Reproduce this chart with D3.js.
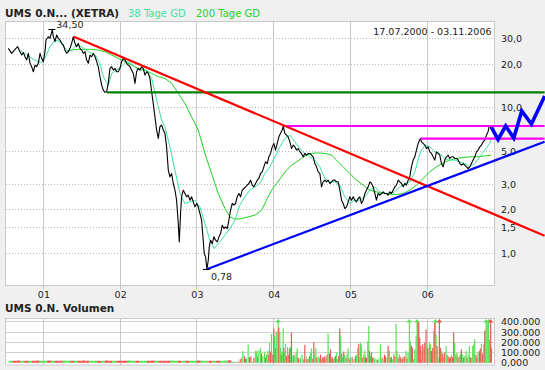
<!DOCTYPE html>
<html><head><meta charset="utf-8">
<script src="https://cdn.jsdelivr.net/npm/d3@7"></script>
<style>
body{margin:0;background:#f0f0f0;}
svg{display:block;font-family:"DejaVu Sans",Verdana,sans-serif;}
</style></head><body>
<svg id="c" width="545" height="370"></svg>
<script>
// ---------- DATA (dates as decimal years) ----------
const priceDates = [
2000.543,2000.587,2000.630,2000.665,2000.695,2000.717,2000.739,2000.760,2000.782,2000.804,2000.826,2000.847,2000.869,2000.891,2000.912,2000.934,2000.956,2000.977,2000.999,
2001.021,2001.034,2001.064,2001.086,2001.116,2001.129,2001.151,2001.173,2001.194,2001.216,2001.238,2001.260,2001.281,2001.303,2001.325,2001.346,2001.368,2001.390,2001.411,2001.433,2001.455,2001.477,2001.498,2001.520,2001.542,2001.563,2001.585,2001.607,2001.628,2001.650,2001.672,2001.694,2001.715,2001.737,2001.759,2001.780,2001.802,2001.824,2001.845,2001.867,2001.889,2001.911,2001.932,2001.954,2001.976,2001.997,
2002.019,2002.041,2002.063,2002.084,2002.106,2002.128,2002.149,2002.171,2002.193,2002.214,2002.236,2002.258,2002.280,2002.301,2002.323,2002.345,2002.366,2002.388,2002.410,2002.431,2002.453,2002.475,2002.497,2002.518,2002.540,2002.562,2002.583,
2002.605,2002.627,2002.648,2002.670,2002.692,2002.714,2002.735,2002.757,2002.770,2002.787,2002.800,2002.822,2002.844,2002.865,2002.887,2002.909,2002.931,2002.952,2002.974,2002.996,
2003.017,2003.039,2003.061,2003.082,2003.095,2003.113,2003.130,2003.148,2003.161,2003.178,2003.200,2003.221,2003.243,2003.265,2003.287,2003.308,2003.330,2003.352,2003.373,2003.395,2003.417,2003.438,2003.460,2003.482,2003.503,2003.525,2003.547,2003.569,2003.590,2003.612,2003.634,2003.655,2003.677,2003.699,2003.720,2003.742,2003.764,2003.786,2003.807,2003.829,2003.851,2003.872,2003.894,2003.916,2003.937,2003.959,2003.981,
2004.003,2004.024,2004.046,2004.068,2004.089,2004.111,2004.124,2004.146,2004.168,2004.189,2004.211,2004.233,2004.254,2004.276,2004.298,2004.320,2004.341,2004.363,2004.385,2004.406,2004.428,2004.450,2004.471,2004.493,2004.515,2004.536,2004.558,2004.580,2004.602,2004.623,2004.645,2004.667,2004.688,2004.710,2004.732,2004.754,2004.775,2004.797,2004.819,2004.840,2004.862,2004.884,2004.905,2004.927,2004.949,2004.971,2004.992,
2005.014,2005.036,2005.057,2005.079,2005.101,2005.122,2005.144,2005.166,2005.188,2005.209,2005.231,2005.253,2005.274,2005.296,2005.318,2005.339,2005.361,2005.383,2005.405,2005.426,2005.448,2005.470,2005.491,2005.513,2005.535,2005.556,2005.578,2005.600,2005.622,2005.643,2005.665,2005.687,2005.708,2005.730,2005.752,2005.773,2005.795,2005.817,2005.839,2005.860,2005.882,2005.904,2005.913,2005.925,2005.947,2005.969,2005.990,
2006.012,2006.034,2006.056,2006.077,2006.099,2006.121,2006.142,2006.164,2006.186,2006.207,2006.229,2006.251,2006.273,2006.294,2006.316,2006.338,2006.359,2006.381,2006.403,2006.425,2006.446,2006.468,2006.490,2006.511,2006.533,2006.555,2006.576,2006.598,2006.620,2006.642,2006.663,2006.685,2006.707,2006.728,2006.750,2006.772,2006.793,2006.806,2006.818,2006.830,2006.840];
const priceValues = [
25.65,23.69,25.25,26.33,24.33,23.08,23.96,22.48,21.32,23.69,20.23,19.19,17.72,19.70,19.19,20.23,23.69,21.89,20.77,
24.33,29.26,30.84,30.04,34.50,30.84,28.50,31.68,30.04,29.26,27.76,27.04,24.98,23.69,24.33,25.65,27.76,30.84,27.76,26.33,27.76,25.65,24.98,23.69,24.33,21.32,20.23,23.08,22.48,23.69,22.48,20.77,19.19,16.37,14.35,13.26,12.80,12.92,14.74,18.69,19.19,18.19,18.69,17.72,17.72,18.69,
20.77,21.89,21.32,20.23,19.70,19.19,18.19,17.26,14.74,17.72,18.69,18.19,19.19,18.69,16.81,17.72,17.26,15.95,12.92,10.74,8.67,7.05,6.17,7.43,7.63,7.05,6.69,
5.40,3.737,3.363,3.545,3.026,2.723,2.325,1.607,1.202,1.883,2.450,2.723,2.583,2.450,2.516,2.325,2.450,2.264,2.092,2.205,
2.092,1.883,1.694,1.234,0.999,0.948,0.78,0.899,1.111,1.234,1.171,1.301,1.234,1.202,1.301,1.371,1.565,1.485,1.525,1.485,1.694,1.985,2.205,2.148,2.205,2.450,2.583,2.450,2.723,2.795,2.870,2.947,3.026,3.19,2.947,2.870,3.026,3.19,3.276,3.545,3.64,3.94,4.26,4.15,4.615,4.865,5.40,
5.70,5.13,5.70,6.33,6.69,7.05,7.51,6.69,6.50,6.33,5.85,5.26,5.55,5.40,5.13,5.26,4.99,4.865,4.615,4.865,4.74,4.865,4.865,4.74,4.615,4.15,3.94,3.64,3.545,2.870,3.107,3.19,3.107,3.19,3.026,3.107,3.19,3.19,3.107,3.107,2.723,2.325,2.205,2.038,2.092,2.264,2.450,
2.325,2.450,2.325,2.264,2.387,2.450,2.205,2.325,2.583,2.723,2.870,3.107,3.026,2.870,2.583,2.325,2.583,2.516,2.583,2.652,2.583,2.583,2.516,2.652,2.583,2.723,2.870,2.947,3.19,3.107,3.026,2.870,3.026,2.947,3.19,3.363,3.94,4.38,4.615,5.13,5.70,6.07,6.15,5.85,5.70,5.55,5.26,
5.40,4.99,4.865,4.615,4.38,4.99,4.865,4.74,4.15,3.94,4.38,4.615,4.74,4.495,4.615,4.615,4.495,4.495,4.38,4.15,4.04,4.15,4.04,3.94,3.836,3.94,4.15,4.38,4.615,4.99,5.13,5.40,5.55,5.85,6.01,6.50,6.87,7.43,7.51,7.24,7.05];

const ma38Dates = [2000.674,2000.760,2000.847,2000.934,2000.977,2001.021,2001.086,2001.151,2001.216,2001.281,2001.325,2001.368,2001.433,2001.498,2001.585,2001.672,2001.737,2001.780,2001.845,2001.889,2001.954,2002.019,2002.084,2002.149,2002.214,2002.280,2002.345,2002.410,2002.475,2002.540,2002.583,2002.648,2002.714,2002.779,2002.844,2002.909,2002.974,2003.039,2003.104,2003.169,2003.226,2003.299,2003.364,2003.430,2003.495,2003.560,2003.625,2003.690,2003.755,2003.820,2003.885,2003.951,2004.016,2004.081,2004.146,2004.211,2004.276,2004.341,2004.406,2004.471,2004.536,2004.602,2004.667,2004.732,2004.797,2004.862,2004.927,2004.992,2005.057,2005.122,2005.188,2005.253,2005.318,2005.383,2005.448,2005.513,2005.578,2005.643,2005.708,2005.773,2005.839,2005.904,2005.969,2006.034,2006.099,2006.164,2006.229,2006.294,2006.359,2006.425,2006.490,2006.555,2006.620,2006.685,2006.750,2006.815,2006.840];
const ma38Values = [24.98,23.69,21.89,20.77,20.44,21.89,26.33,29.26,28.50,25.65,24.33,24.98,27.04,26.33,24.33,23.08,20.23,16.37,14.35,17.26,18.19,19.19,20.77,20.23,18.69,18.19,18.19,15.95,11.32,8.25,7.43,5.40,3.737,2.583,2.205,2.264,2.325,2.092,1.607,1.234,1.08,1.202,1.336,1.485,1.694,2.148,2.450,2.723,2.870,3.026,3.545,3.94,4.615,5.40,6.17,6.50,5.85,5.26,4.865,4.615,4.38,3.94,3.276,3.107,3.107,2.947,2.450,2.205,2.325,2.325,2.450,2.723,2.870,2.652,2.583,2.583,2.652,2.870,3.026,3.107,3.64,4.865,5.55,5.40,4.99,4.865,4.495,4.38,4.38,4.26,4.15,3.94,4.15,4.615,5.13,5.70,6.27];

const ma200Dates = [2001.303,2001.368,2001.455,2001.542,2001.628,2001.715,2001.802,2001.889,2001.976,2002.063,2002.149,2002.236,2002.323,2002.410,2002.497,2002.583,2002.670,2002.757,2002.844,2002.931,2003.017,2003.104,2003.191,2003.278,2003.365,2003.430,2003.495,2003.582,2003.668,2003.755,2003.842,2003.907,2003.972,2004.037,2004.102,2004.168,2004.233,2004.298,2004.363,2004.428,2004.493,2004.580,2004.667,2004.753,2004.819,2004.905,2004.992,2005.079,2005.166,2005.253,2005.339,2005.426,2005.513,2005.600,2005.687,2005.773,2005.860,2005.947,2006.034,2006.121,2006.207,2006.294,2006.381,2006.468,2006.555,2006.642,2006.728,2006.837];
const ma200Values = [24.7,24.98,25.25,25.25,25.25,24.98,24.33,23.08,21.89,20.77,19.70,18.69,18.19,17.26,16.37,15.95,14.74,12.58,10.74,8.67,7.05,4.865,3.545,2.583,2.038,1.786,1.72,1.739,1.786,1.833,1.985,2.325,2.723,3.026,3.363,3.737,4.04,4.26,4.495,4.74,4.865,4.91,4.865,4.74,4.38,3.94,3.545,3.19,2.947,2.723,2.652,2.583,2.556,2.543,2.583,2.723,2.947,3.276,3.64,3.94,4.19,4.38,4.495,4.57,4.615,4.615,4.66,4.74];

// volume in thousands of shares; up = 1 (green) / 0 (red)
const volDates = [
2000.55,2000.60,2000.65,2000.70,2000.75,2000.80,2000.85,2000.90,2000.95,
2001.00,2001.05,2001.10,2001.15,2001.20,2001.25,2001.30,2001.35,2001.40,2001.45,2001.50,2001.55,2001.60,2001.65,2001.70,2001.75,2001.80,2001.85,2001.90,2001.95,
2002.00,2002.05,2002.10,2002.15,2002.20,2002.25,2002.30,2002.35,2002.40,2002.45,2002.50,2002.55,2002.60,2002.65,2002.70,2002.75,2002.80,2002.85,2002.90,2002.95,
2003.00,2003.05,2003.10,2003.15,2003.20,2003.25,2003.30,2003.35,2003.40,2003.45,
2003.495,2003.517,2003.538,2003.556,2003.573,2003.590,2003.612,2003.625,2003.638,2003.660,2003.677,2003.695,2003.712,2003.734,2003.755,2003.786,2003.799,2003.821,2003.834,2003.851,2003.873,2003.886,2003.899,2003.916,2003.929,2003.938,2003.951,2003.964,2003.981,2003.994,
2004.003,2004.016,2004.024,2004.037,2004.051,2004.059,2004.072,2004.081,2004.094,2004.103,2004.116,2004.124,2004.137,2004.146,2004.159,2004.172,2004.189,2004.198,2004.211,2004.224,2004.242,2004.255,2004.267,2004.285,2004.298,2004.311,2004.320,2004.341,2004.363,2004.385,2004.398,2004.415,2004.428,2004.441,2004.458,2004.472,2004.485,2004.502,2004.515,2004.528,2004.541,2004.554,2004.571,2004.589,2004.602,2004.615,2004.632,2004.645,2004.658,2004.675,2004.688,2004.701,2004.719,2004.732,2004.745,2004.754,2004.767,2004.784,2004.797,2004.810,2004.827,2004.840,2004.853,2004.866,2004.879,2004.892,2004.905,2004.918,2004.936,2004.949,2004.962,2004.975,2004.992,
2005.014,2005.036,2005.057,2005.070,2005.088,2005.101,2005.109,2005.123,2005.136,2005.153,2005.166,2005.179,
2005.188,2005.200,2005.218,2005.231,2005.240,2005.253,2005.266,2005.283,2005.296,2005.309,2005.326,2005.344,2005.361,2005.383,2005.404,2005.417,2005.435,2005.448,2005.470,2005.483,2005.500,2005.513,2005.526,2005.543,2005.556,2005.570,2005.587,2005.600,2005.613,2005.630,2005.643,2005.656,2005.674,2005.687,2005.700,2005.717,2005.730,2005.743,2005.760,2005.773,2005.786,2005.799,2005.812,2005.830,2005.847,2005.860,2005.873,2005.882,2005.895,2005.908,2005.921,2005.934,2005.947,2005.960,2005.977,2005.990,
2006.003,2006.021,2006.034,2006.047,2006.064,2006.077,2006.090,2006.099,2006.107,2006.121,2006.134,2006.151,2006.164,2006.177,2006.194,2006.207,2006.220,2006.238,2006.251,2006.264,2006.281,2006.294,2006.307,2006.324,2006.337,2006.350,2006.368,2006.381,2006.394,2006.411,2006.424,2006.437,2006.455,2006.468,2006.481,2006.498,2006.511,2006.524,2006.541,2006.554,2006.567,2006.585,2006.598,2006.611,2006.628,2006.641,2006.654,2006.672,2006.685,2006.698,2006.715,2006.728,2006.741,2006.750,2006.759,2006.772,2006.784,2006.793,2006.806,2006.819,2006.828,2006.837];
const volValues = [
20,20,22,20,20,20,20,22,20,
20,22,20,20,20,22,20,20,20,20,22,20,20,20,20,20,22,20,20,20,
20,20,22,20,20,20,20,20,22,20,20,20,20,22,20,20,20,20,20,20,
22,20,20,20,20,20,20,22,24,
10,8,12,10,35,50,115,65,40,40,180,55,65,15,50,115,65,125,145,90,65,110,50,80,120,80,195,110,280,80,
335,260,145,295,310,460,345,295,145,80,110,335,145,100,185,65,155,80,140,155,295,65,80,65,100,140,50,35,50,80,35,175,65,35,40,65,100,140,40,200,80,145,50,65,50,80,35,55,50,65,50,80,285,90,130,50,55,35,50,65,100,40,65,335,270,90,55,110,80,50,90,140,40,
50,55,40,65,80,145,185,55,195,180,50,80,
120,55,50,210,360,115,65,100,50,50,40,35,25,40,180,50,35,80,65,50,165,120,50,55,35,90,65,380,115,50,80,55,35,50,55,65,115,40,100,460,210,165,145,35,130,260,460,400,390,245,165,115,180,145,195,325,
180,145,195,180,115,145,310,390,460,280,165,50,460,145,115,90,50,100,165,80,65,50,55,80,55,295,195,80,100,55,65,90,130,80,50,65,115,50,80,165,55,50,165,180,230,80,50,100,115,140,185,90,180,310,325,460,400,380,460,225,460,145];
const volUp = [
1,0,0,1,0,1,0,0,1,
1,0,1,0,0,1,1,0,1,0,0,0,1,1,0,1,0,0,1,0,
0,0,1,1,0,1,1,0,0,1,0,0,0,1,1,0,1,0,1,1,
0,1,1,0,1,0,1,1,0,
1,0,1,0,0,1,1,0,0,1,1,0,0,1,0,1,0,1,1,0,1,1,0,1,1,0,1,0,1,0,
0,1,0,1,1,1,0,1,1,0,1,1,0,1,1,0,1,0,0,1,0,1,0,1,1,1,0,0,1,1,0,0,1,0,1,0,1,1,0,0,1,1,0,1,1,0,1,0,0,0,1,0,1,0,0,1,0,0,1,0,1,1,0,0,1,0,1,0,1,0,1,1,0,
1,0,1,0,1,1,0,1,1,1,0,1,
1,0,0,1,1,0,1,0,0,1,1,1,0,1,1,0,1,0,0,1,0,1,1,0,1,1,0,1,1,0,1,0,1,0,1,0,1,0,1,1,1,0,0,1,1,1,1,0,0,0,0,1,0,1,0,0,
1,0,1,1,0,0,1,0,1,1,0,1,0,0,1,0,1,0,1,1,0,0,0,1,0,0,1,0,1,0,1,1,0,1,0,1,1,0,1,1,0,1,1,1,1,0,0,1,0,0,1,0,1,0,1,1,1,1,1,1,0,0];

const yearTicks = [2001,2002,2003,2004,2005,2006];
const yearLabels = ["01","02","03","04","05","06"];
const priceTicks = [1,1.5,2,3,5,10,20,30];
const priceTickLabels = ["1,0","1,5","2,0","3,0","5,0","10,0","20,0","30,0"];
const volTicks = [0,100,200,300,400];
const volTickLabels = ["0,000","100.000","200.000","300.000","400.000"];

// drawn analysis lines: [decimal year, price]
const trendRed = [[2001.398,30.83],[2007.53,1.325]];
const trendBlue = [[2003.130,0.78],[2007.53,5.86]];
const levelGreen = [[2001.824,12.8],[2007.53,12.8]];
const levelMagenta1 = [[2004.124,7.51],[2007.53,7.51]];
const levelMagenta2 = [[2005.913,6.15],[2007.53,6.15]];
const zigzag = [[2006.837,7.36],[2006.923,6.07],[2007.023,7.51],[2007.128,6.21],[2007.232,9.52],[2007.358,7.75],[2007.531,12.07]];
const extremes = [{date:2001.116,value:34.50,text:"34,50",kind:"high"},{date:2003.130,value:0.78,text:"0,78",kind:"low"}];

const titleText = "UMS 0.N... (XETRA)";
const legendItems = [{text:"38 Tage GD",color:"#3fe29c"},{text:"200 Tage GD",color:"#1fd21f"}];
const rangeText = "17.07.2000 - 03.11.2006";
const volTitle = "UMS 0.N. Volumen";

// ---------- LAYOUT ----------
const P = {l:5, r:495, t:21, b:285.5};
const V = {l:5, r:495, t:318, b:365.5};
const x = d3.scaleLinear().domain([2001,2006]).range([43.4,427.2]);
const y = d3.scaleLog().domain([0.6029,39.53]).range([P.b,P.t]);
const yv = d3.scaleLinear().domain([0,400]).range([362.8,321.8]);

const svg = d3.select("#c");
svg.append("rect").attr("width",545).attr("height",370).attr("fill","#f0f0f0");

const crisp = v => Math.round(v - 0.5) + 0.5;

// price panel
svg.append("rect").attr("x",P.l+0.5).attr("y",P.t+0.5).attr("width",P.r-P.l-1).attr("height",P.b-P.t-0.5)
  .attr("fill","#fff").attr("stroke","#c8c8c8");
svg.append("g").selectAll("line").data(priceTicks).join("line")
  .attr("x1",P.l+1).attr("x2",P.r-1)
  .attr("y1",d=>crisp(y(d))).attr("y2",d=>crisp(y(d)))
  .attr("stroke","#b8b8b8").attr("stroke-dasharray","1,2");
svg.append("g").selectAll("line").data(yearTicks).join("line")
  .attr("x1",d=>crisp(x(d))).attr("x2",d=>crisp(x(d)))
  .attr("y1",P.t).attr("y2",P.b+4).attr("stroke","#c8c8c8");

// x axis labels via d3 axis
const xAxis = d3.axisBottom(x).tickValues(yearTicks).tickFormat((d,i)=>yearLabels[i]).tickSize(0).tickPadding(0);
const gx = svg.append("g").attr("transform",`translate(0,${P.b+4})`).call(xAxis);
gx.select(".domain").remove();
gx.selectAll("text").attr("font-size","9.5px").attr("fill","#222").attr("font-family","DejaVu Sans").attr("dy","0.9em");

// right price axis labels
const yAxis = d3.axisRight(y).tickValues(priceTicks).tickFormat((d,i)=>priceTickLabels[i]).tickSize(0).tickPadding(0);
const gy = svg.append("g").attr("transform",`translate(501,0)`).call(yAxis);
gy.select(".domain").remove();
gy.selectAll("text").attr("font-size","9.5px").attr("fill","#222").attr("font-family","DejaVu Sans");

// clip
svg.append("clipPath").attr("id","pc").append("rect").attr("x",P.l+1).attr("y",P.t+1).attr("width",P.r-P.l-2).attr("height",P.b-P.t-1.5);
const pg = svg.append("g").attr("clip-path","url(#pc)");

const line = d3.line().x(d=>x(d[0])).y(d=>y(d[1]));
const zip = (a,b)=>a.map((d,i)=>[d,b[i]]);

pg.append("path").attr("d",line(zip(ma200Dates,ma200Values))).attr("fill","none").attr("stroke",legendItems[1].color).attr("stroke-width",1);
pg.append("path").attr("d",line(zip(ma38Dates,ma38Values))).attr("fill","none").attr("stroke",legendItems[0].color).attr("stroke-width",1);
pg.append("path").attr("d",line(zip(priceDates,priceValues))).attr("fill","none").attr("stroke","#000").attr("stroke-width",1.1).attr("stroke-linejoin","round");

// analysis lines
const ag = svg.append("g");
ag.append("path").attr("d",line(levelGreen)).attr("stroke","#008000").attr("stroke-width",2.2).attr("fill","none");
ag.append("path").attr("d",line(levelMagenta1)).attr("stroke","#ff00ff").attr("stroke-width",2.2).attr("fill","none");
ag.append("path").attr("d",line(levelMagenta2)).attr("stroke","#ff00ff").attr("stroke-width",2.2).attr("fill","none");
ag.append("path").attr("d",line(trendRed)).attr("stroke","#ff0000").attr("stroke-width",2.2).attr("fill","none");
ag.append("path").attr("d",line(trendBlue)).attr("stroke","#0000ff").attr("stroke-width",2.2).attr("fill","none");
ag.append("path").attr("d",line(zigzag)).attr("stroke","#0000ff").attr("stroke-width",3.6).attr("fill","none").attr("stroke-linejoin","miter");

// extremes
extremes.forEach(e=>{
  const ex=x(e.date), ey=y(e.value);
  svg.append("line").attr("x1",ex-4).attr("x2",ex+3).attr("y1",crisp(ey)).attr("y2",crisp(ey)).attr("stroke","#000");
  svg.append("text").attr("x",e.kind==="high"?ex+4:ex+4).attr("y",e.kind==="high"?ey-2:ey+11)
    .attr("font-size","9.5px").attr("fill","#222").text(e.text);
});

// titles
svg.append("text").attr("x",5).attr("y",16.5).attr("font-size","10.5px").attr("font-weight","bold").attr("fill","#222").text(titleText);
svg.append("text").attr("x",128).attr("y",16.5).attr("font-size","10px").attr("fill",legendItems[0].color).text(legendItems[0].text);
svg.append("text").attr("x",196).attr("y",16.5).attr("font-size","10px").attr("fill",legendItems[1].color).text(legendItems[1].text);
svg.append("text").attr("x",491.5).attr("y",34.5).attr("text-anchor","end").attr("font-size","9.5px").attr("fill","#222").text(rangeText);

// volume panel
svg.append("text").attr("x",5).attr("y",312).attr("font-size","10.5px").attr("font-weight","bold").attr("fill","#222").text(volTitle);
svg.append("rect").attr("x",V.l+0.5).attr("y",V.t+0.5).attr("width",V.r-V.l-1).attr("height",V.b-V.t-1)
  .attr("fill","#fff").attr("stroke","#c8c8c8");
svg.append("g").selectAll("line").data(volTicks.slice(1)).join("line")
  .attr("x1",V.l+1).attr("x2",V.r-1).attr("y1",d=>crisp(yv(d))).attr("y2",d=>crisp(yv(d))).attr("stroke","#d0d0d0");
svg.append("g").selectAll("line").data(yearTicks).join("line")
  .attr("x1",d=>crisp(x(d))).attr("x2",d=>crisp(x(d))).attr("y1",V.t).attr("y2",V.b).attr("stroke","#c8c8c8");
const vAxis = d3.axisRight(yv).tickValues(volTicks).tickFormat((d,i)=>volTickLabels[i]).tickSize(0).tickPadding(0);
const gv = svg.append("g").attr("transform","translate(501,0)").call(vAxis);
gv.select(".domain").remove();
gv.selectAll("text").attr("font-size","9.5px").attr("fill","#222").attr("font-family","DejaVu Sans");

const vols = volDates.map((d,i)=>({d,v:volValues[i],up:volUp[i],next:volDates[i+1]}));
const vg = svg.append("g");
vols.forEach(o=>{
  const xs = x(o.d);
  const gap = o.next!==undefined ? x(o.next)-xs : 1.2;
  const w = gap>2 ? gap : 1.2;
  const col = o.up ? "#58e458" : "#ee5656";
  const top = o.v>400 ? V.t+3 : yv(o.v);
  vg.append("rect").attr("x",xs).attr("y",top).attr("width",w).attr("height",Math.max(0,362.8-top)).attr("fill",col);
  if(o.v>400){
    const cx = xs+w/2;
    vg.append("path").attr("d",`M${cx-2.8},${V.t+4.5}L${cx+2.8},${V.t+4.5}L${cx},${V.t+1}Z`).attr("fill",col);
  }
});
</script>
</body></html>
